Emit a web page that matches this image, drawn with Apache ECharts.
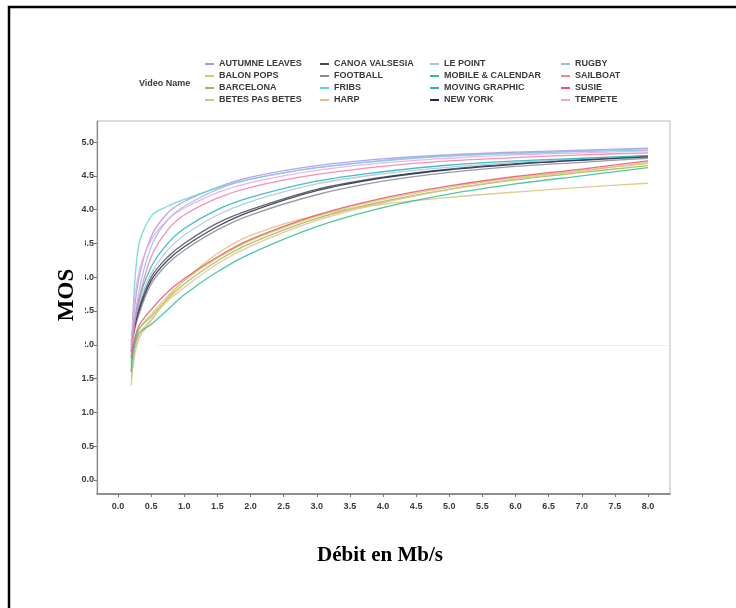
<!DOCTYPE html>
<html>
<head>
<meta charset="utf-8">
<script src="https://cdn.jsdelivr.net/npm/echarts@6/dist/echarts.min.js"></script>
<style>
  html, body { margin: 0; padding: 0; background: #fff; }
  #chart { width: 736px; height: 608px; }
</style>
</head>
<body>
<div id="chart"></div>
<script>
// Bit rate (Mb/s) at which each sequence was rated
const bitrates = [0.2, 0.3, 0.5, 0.75, 1, 1.5, 2, 3, 4, 5, 6, 7, 8];

// Mean opinion score per video sequence
const autumneLeaves  = [1.90, 2.90, 3.60, 3.95, 4.12, 4.33, 4.48, 4.65, 4.75, 4.81, 4.85, 4.88, 4.91];
const balonPops      = [1.70, 2.20, 2.45, 2.72, 2.95, 3.28, 3.54, 3.90, 4.15, 4.33, 4.47, 4.58, 4.68];
const barcelona      = [1.75, 2.20, 2.42, 2.68, 2.90, 3.24, 3.50, 3.87, 4.12, 4.30, 4.44, 4.55, 4.65];
const betesPasBetes  = [1.40, 2.05, 2.35, 2.70, 2.95, 3.35, 3.62, 3.92, 4.08, 4.18, 4.26, 4.33, 4.39];
const canoaValsesia  = [2.05, 2.50, 3.00, 3.30, 3.50, 3.80, 4.00, 4.30, 4.48, 4.60, 4.68, 4.74, 4.79];
const football       = [1.95, 2.40, 2.90, 3.20, 3.40, 3.70, 3.92, 4.22, 4.42, 4.55, 4.64, 4.70, 4.76];
const fribs          = [1.60, 3.40, 3.90, 4.05, 4.15, 4.32, 4.45, 4.62, 4.72, 4.79, 4.83, 4.86, 4.88];
const harp           = [1.50, 2.10, 2.38, 2.65, 2.85, 3.20, 3.46, 3.84, 4.10, 4.30, 4.45, 4.57, 4.70];
const lePoint        = [1.85, 2.55, 3.05, 3.40, 3.62, 3.92, 4.12, 4.38, 4.53, 4.63, 4.70, 4.75, 4.80];
const mobileCalendar = [1.60, 2.15, 2.30, 2.52, 2.74, 3.08, 3.35, 3.75, 4.03, 4.23, 4.38, 4.50, 4.62];
const movingGraphic  = [1.90, 2.60, 3.15, 3.50, 3.72, 4.00, 4.18, 4.42, 4.56, 4.66, 4.72, 4.76, 4.80];
const newYork        = [2.00, 2.45, 2.95, 3.25, 3.45, 3.75, 3.97, 4.28, 4.47, 4.59, 4.67, 4.73, 4.78];
const rugby          = [1.80, 2.70, 3.45, 3.85, 4.05, 4.30, 4.45, 4.62, 4.73, 4.80, 4.84, 4.87, 4.90];
const sailboat       = [1.90, 2.60, 3.30, 3.70, 3.92, 4.17, 4.33, 4.52, 4.64, 4.72, 4.77, 4.81, 4.84];
const susie          = [1.80, 2.25, 2.52, 2.78, 2.98, 3.30, 3.56, 3.92, 4.17, 4.35, 4.49, 4.60, 4.72];
const tempete        = [2.00, 3.00, 3.55, 3.85, 4.02, 4.25, 4.40, 4.58, 4.69, 4.76, 4.81, 4.84, 4.87];

const videoNames = [
  'AUTUMNE LEAVES', 'BALON POPS', 'BARCELONA', 'BETES PAS BETES',
  'CANOA VALSESIA', 'FOOTBALL', 'FRIBS', 'HARP',
  'LE POINT', 'MOBILE & CALENDAR', 'MOVING GRAPHIC', 'NEW YORK',
  'RUGBY', 'SAILBOAT', 'SUSIE', 'TEMPETE'
];
const mosValues = [
  autumneLeaves, balonPops, barcelona, betesPasBetes,
  canoaValsesia, football, fribs, harp,
  lePoint, mobileCalendar, movingGraphic, newYork,
  rugby, sailboat, susie, tempete
];
const lineColors = [
  '#b08ef2', '#c9d35a', '#9fb84a', '#d9c27a',
  '#4a4a52', '#8a8a8a', '#5fd8cc', '#e8b890',
  '#a9c4dc', '#2fbf8f', '#25b3b8', '#1f2d4f',
  '#8fc0f2', '#f27fa6', '#ec4f78', '#f2a6d8'
];

// Tick positions shown on both axes
const xTicks = [0, 0.5, 1, 1.5, 2, 2.5, 3, 3.5, 4, 4.5, 5, 5.5, 6, 6.5, 7, 7.5, 8];
const yTicks = [0, 0.5, 1, 1.5, 2, 2.5, 3, 3.5, 4, 4.5, 5];

const chart = echarts.init(document.getElementById('chart'), null, { renderer: 'canvas' });

const tickFont = { fontFamily: 'Liberation Sans, Arial, sans-serif', fontSize: 9, fontWeight: 'bold', color: '#3a3a3a' };

const series = videoNames.map((name, i) => ({
  name: name,
  type: 'line',
  smooth: 0.35,
  showSymbol: false,
  symbol: 'none',
  lineStyle: { width: 1.3, color: lineColors[i], opacity: 0.85 },
  itemStyle: { color: lineColors[i] },
  data: bitrates.map((b, k) => [b, mosValues[i][k]]),
  z: 3
}));

// faint reference line at MOS = 2
series[0].markLine = {
  silent: true,
  symbol: 'none',
  label: { show: false },
  lineStyle: { color: '#ececec', width: 1, type: 'solid' },
  data: [[{ coord: [0.6, 2] }, { coord: [8.33, 2] }]]
};

const legendCols = [205, 320, 430, 561];
const legends = legendCols.map((left, c) => ({
  orient: 'vertical',
  left: left,
  top: 58,
  padding: 0,
  itemGap: 0,
  itemWidth: 9,
  itemHeight: 2,
  icon: 'rect',
  selectedMode: false,
  data: videoNames.slice(c * 4, c * 4 + 4),
  textStyle: { fontFamily: 'Liberation Sans, Arial, sans-serif', fontSize: 9, fontWeight: 'bold', color: '#3a3a3a', lineHeight: 12, padding: [0, 0, 0, 0] }
}));

chart.setOption({
  animation: false,
  backgroundColor: '#ffffff',
  title: {
    text: 'Video Name',
    left: 139,
    top: 79,
    padding: 0,
    textStyle: { fontFamily: 'Liberation Sans, Arial, sans-serif', fontSize: 9, fontWeight: 'bold', color: '#3a3a3a' }
  },
  legend: legends,
  grid: {
    left: 97, top: 121, right: 66, bottom: 114,
    show: true, borderColor: '#b8b8b8', borderWidth: 1, backgroundColor: 'transparent'
  },
  xAxis: {
    type: 'value',
    min: -0.317,
    max: 8.332,
    axisLine: { show: true, onZero: false, lineStyle: { color: '#777', width: 1.5 } },
    axisTick: { show: true, customValues: xTicks, length: 3, lineStyle: { color: '#777' } },
    axisLabel: { customValues: xTicks, margin: 8, formatter: v => v.toFixed(1), ...tickFont },
    splitLine: { show: false }
  },
  yAxis: {
    type: 'value',
    min: -0.207,
    max: 5.311,
    axisLine: { show: true, onZero: false, lineStyle: { color: '#8a8a8a', width: 1.2 } },
    axisTick: { show: true, customValues: yTicks, length: 3, lineStyle: { color: '#777' } },
    axisLabel: { customValues: yTicks, margin: 3, formatter: v => v.toFixed(1), ...tickFont },
    splitLine: { show: false }
  },
  graphic: [
    {
      type: 'rect',
      shape: { x: 9, y: 7, width: 760, height: 640 },
      style: { fill: 'none', stroke: '#000', lineWidth: 2.5 },
      silent: true, z: 100
    },
    {
      type: 'text',
      x: 67, y: 295,
      rotation: Math.PI / 2,
      style: {
        text: 'MOS',
        font: 'bold 23px "Liberation Serif", "Times New Roman", serif',
        fill: '#000',
        align: 'center',
        verticalAlign: 'middle',
        backgroundColor: '#fff',
        padding: [4, 32, 9, 32]
      },
      z: 50
    },
    {
      type: 'text',
      x: 380, y: 556,
      style: {
        text: 'Débit en Mb/s',
        font: 'bold 21px "Liberation Serif", "Times New Roman", serif',
        fill: '#000',
        align: 'center',
        verticalAlign: 'middle'
      },
      z: 50
    }
  ],
  series: series
});
</script>
</body>
</html>
